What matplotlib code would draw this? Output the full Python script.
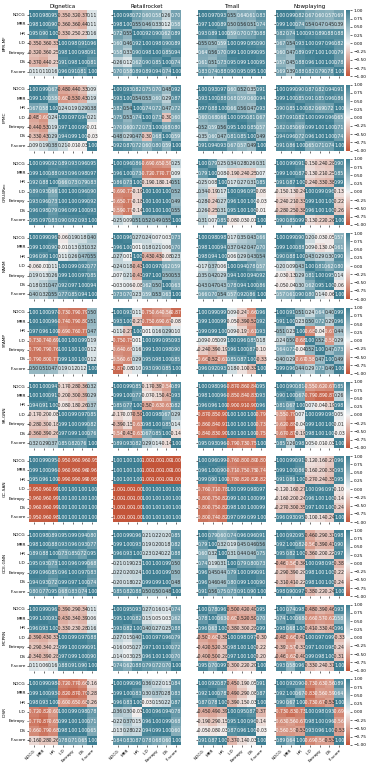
import numpy as np
import matplotlib
matplotlib.use("Agg")
import matplotlib.pyplot as plt
import seaborn as sns

metrics = ["NDCG", "MRR", "HR", "ILD", "Entropy", "DS", "F-score"]
datasets = ["Dignetica", "Retailrocket", "Tmall", "Nowplaying"]
models = ["BPR-MF", "FPMC", "GRU4Rec", "NARM", "STAMP", "SR-GNN",
          "GC-SAN", "GCE-GNN", "MCPRN", "IDSR"]

# upper-triangle correlations (row-major, 21 values) per dataset
bpr_mf = [
    [.98, .95, -.35, -.32, -.37, .11, .90, -.36, -.36, -.44, .11, -.33, -.25, -.23, .16, .98, .91, .96, .98, .91, .81],
    [.98, .72, .60, .58, .26, .70, .55, .46, .33, .12, .58, .92, .90, .62, .89, .98, .90, .89, .85, .94, .74],
    [.97, .93, .55, .64, .61, .83, .89, .50, .56, .51, .74, .59, .70, .73, .88, .99, .95, .90, .99, .95, .95],
    [.99, .82, .67, .60, .57, .69, .74, .54, .47, .45, .39, .93, .89, .88, .88, .97, .96, .82, 1.00, .79, .78],
]
fpmc = [
    [.99, .67, -.48, -.44, -.33, .09, .58, -.60, -.53, -.43, .19, .24, .19, .29, .38, .97, .94, .21, .99, -.01, -.03],
    [.93, .82, .75, .70, .48, .92, .54, .53, .60, .29, .87, .74, .72, .47, .72, .73, -.30, .60, .68, .80, .59],
    [.93, .97, .60, .52, .35, .91, .88, .68, .59, .60, .94, .66, .56, .47, .93, .95, .81, .67, .85, .57, .49],
    [.99, .90, .87, .82, .94, .91, .85, .91, .85, .96, .86, .82, .69, .72, 1.00, .99, .96, .65, 1.00, .71, .74],
]
gru4rec = [
    [.99, .92, .89, .93, .96, .95, .88, .93, .96, .98, .97, .66, .73, .79, .83, 1.00, .96, .90, .99, .92, .93],
    [.96, .86, -.69, -.65, -.59, .25, .73, -.72, -.77, -.77, .09, -.19, -.18, -.14, .51, 1.00, 1.00, .52, 1.00, .49, .55],
    [.79, .25, .34, .28, .26, .31, .08, -.19, -.24, -.25, .07, .17, .27, .31, .85, .96, .95, -.08, 1.00, -.03, -.01],
    [.99, .91, -.15, -.24, -.28, .90, .87, -.13, -.21, -.25, .85, -.24, -.33, -.38, .99, .99, .96, -.13, 1.00, -.22, -.26],
]
narm = [
    [.99, .96, -.06, .19, .18, .40, .90, -.01, .13, .31, .32, .11, .26, .47, .55, .99, .92, .77, .97, .85, .94],
    [.96, .27, .24, .07, .03, .73, .01, .18, .21, .06, .70, -.43, -.43, -.08, .23, .97, .62, .59, .50, .53, .63],
    [.98, .98, .17, .35, .43, .66, .94, .37, .42, .47, .70, .06, .29, .43, .54, .94, .78, .57, .94, .92, .86],
    [.99, .90, .20, -.03, -.05, .57, .88, .09, -.13, -.04, .61, .43, .29, .30, .90, .81, .62, .80, .95, .14, -.06],
]
stamp = [
    [1.00, .97, -.73, -.79, -.79, .50, .96, -.74, -.79, -.80, .51, -.69, -.76, -.77, .47, 1.00, .99, .19, 1.00, .12, .12],
    [.93, .11, -.75, -.64, -.56, -.87, -.27, -.75, -.69, -.67, -.08, .01, .16, .29, .10, .99, .95, .93, .98, .90, .85],
    [.99, .99, .09, -.24, -.66, .96, .99, -.05, -.39, -.52, .92, .09, -.19, -.61, .93, .96, .85, .18, .87, -.10, -.33],
    [.91, .51, .24, .64, .40, .99, .23, .50, .72, .29, .96, -.68, -.04, -.67, .44, .52, -.58, .29, .47, .73, .49],
]
sr_gnn = [
    [1.00, .94, -.17, -.28, -.36, .32, .91, -.20, -.30, -.39, .29, -.08, -.18, -.26, .37, .99, .97, .85, .99, .82, .76],
    [.99, .85, -.17, -.39, -.54, .89, .77, -.07, -.15, -.43, .93, -.50, -.63, -.63, .82, .98, .67, .29, .85, .14, -.14],
    [.98, .96, -.87, -.86, -.84, .95, .96, -.85, -.84, -.83, .93, -.90, -.91, -.90, .96, 1.00, 1.00, -.79, 1.00, -.73, -.75],
    [.90, .81, -.55, -.62, -.67, .85, .67, -.79, -.89, -.87, .26, .07, -.04, -.19, .98, .99, .98, .05, 1.00, -.01, -.03],
]
gc_san = [
    [.99, .95, -.95, -.96, -.96, -.95, .96, -.96, -.96, -.96, -.96, -.99, -.99, -.99, -.98, 1.00, 1.00, 1.00, 1.00, 1.00, 1.00],
    [1.00, 1.00, -1.00, -1.00, -1.00, -1.00, 1.00, -1.00, -1.00, -1.00, -1.00, -1.00, -1.00, -1.00, -1.00, 1.00, 1.00, 1.00, 1.00, 1.00, 1.00],
    [.96, .99, -.76, -.80, -.80, -.80, .90, -.71, -.75, -.75, -.74, -.78, -.82, -.82, -.82, .99, .98, .97, 1.00, .99, .99],
    [.99, .91, -.12, -.16, -.27, .96, .86, -.16, -.20, -.30, .93, -.27, -.24, -.35, .95, .96, .97, -.10, 1.00, -.14, -.24],
]
gce_gnn = [
    [.98, .89, .95, .99, .94, .80, .88, .93, .96, .93, .77, .73, .85, .72, .95, .96, .99, .68, .97, .83, .74],
    [.99, .96, .21, .22, .20, .85, .93, .19, .20, .18, .82, .23, .24, .22, .88, 1.00, .99, .50, .99, .50, .48],
    [.79, .60, .74, .96, .96, .91, .32, .19, .45, .46, .56, .31, .44, .46, .75, .79, .80, .73, .99, .91, .90],
    [.92, .95, -.46, -.29, -.31, .98, .82, -.56, -.39, -.41, .90, -.36, -.20, -.22, .97, .98, .98, -.38, 1.00, -.22, -.24],
]
mcprn = [
    [.99, .96, -.39, -.29, -.34, .11, .93, -.43, -.34, -.39, .06, -.33, -.23, -.28, .16, .99, .97, .88, .99, .91, .90],
    [.95, .93, .27, .16, .14, .74, .82, .15, .05, .03, .62, .40, .27, .25, .88, .97, .96, .79, 1.00, .72, .70],
    [.78, .96, -.50, -.42, -.40, .95, .63, -.60, -.52, -.50, .70, -.38, -.30, -.28, .99, .98, .97, -.30, 1.00, -.22, -.20],
    [.74, .98, -.48, -.39, -.46, .93, .68, -.66, -.57, -.62, .58, -.41, -.33, -.40, .96, .97, .99, -.33, .98, -.24, -.31],
]
idsr = [
    [.99, .98, -.72, -.77, -.66, -.16, .93, -.82, -.87, -.79, -.28, -.60, -.65, -.68, -.26, .99, .98, .78, 1.00, .71, .65],
    [.99, .96, .36, .22, .13, .84, .83, .30, .37, .28, .83, -.03, .15, .22, .87, .96, .94, .78, .99, .68, .60],
    [.92, .87, -.45, -.19, -.05, .91, .78, -.49, -.29, -.08, .87, -.39, -.15, -.03, 1.00, .95, .87, -.37, .96, -.14, -.03],
    [.92, .90, -.73, -.63, -.56, .89, .67, -.83, -.56, -.59, .64, -.73, -.67, -.53, 1.00, .98, .93, -.69, .96, -.56, -.53],
]
all_models = [bpr_mf, fpmc, gru4rec, narm, stamp, sr_gnn, gc_san, gce_gnn, mcprn, idsr]


def full_matrix(upper):
    n = len(metrics)
    m = np.eye(n)
    iu = np.triu_indices(n, 1)
    m[iu] = upper
    m[(iu[1], iu[0])] = upper
    return m


W, H = 369, 767
fig = plt.figure(figsize=(W / 100, H / 100), dpi=100)
cmap = sns.diverging_palette(20, 220, as_cmap=True)

col_x = [29, 113, 198, 276]
hm_w, hm_h = 68, 66
row_y0, row_step = 10.3, 74.3
cb_x, cb_w = 346, 4.3
fs = 3.1

cb_ticks = [-1, -0.75, -0.5, -0.25, 0, 0.25, 0.5, 0.75, 1]


def px_axes(x, y, w, h):
    return fig.add_axes([x / W, 1 - (y + h) / H, w / W, h / H])


for i, model in enumerate(models):
    y = row_y0 + i * row_step
    cax = px_axes(cb_x, y, cb_w, hm_h)
    for j, ds in enumerate(datasets):
        ax = px_axes(col_x[j], y, hm_w, hm_h)
        mat = full_matrix(all_models[i][j])
        sns.heatmap(mat, ax=ax, cmap=cmap, vmin=-1, vmax=1, annot=True, fmt=".2f",
                    annot_kws={"size": 3.3}, xticklabels=metrics, yticklabels=metrics,
                    cbar=(j == 3), cbar_ax=cax if j == 3 else None)
        ax.tick_params(length=1.5, width=0.4, pad=1, labelsize=fs)
        ax.set_yticklabels(metrics, rotation=0, fontsize=fs)
        if j != 0:
            ax.tick_params(labelleft=False)
        if i != len(models) - 1:
            ax.tick_params(labelbottom=False)
        else:
            ax.set_xticklabels(metrics, rotation=45, ha="right", rotation_mode="anchor", fontsize=fs)
        if i == 0:
            ax.set_title(ds, fontsize=4, pad=2)
        if j == 0:
            ax.set_ylabel(model, fontsize=fs, labelpad=2)
    cax.set_yticks(cb_ticks)
    cax.set_yticklabels([f"{v:.2f}".replace("-", "\u2212") for v in cb_ticks])
    cax.tick_params(labelsize=fs, length=1.5, width=0.4, pad=1)

fig.savefig("out.png", dpi=100)
